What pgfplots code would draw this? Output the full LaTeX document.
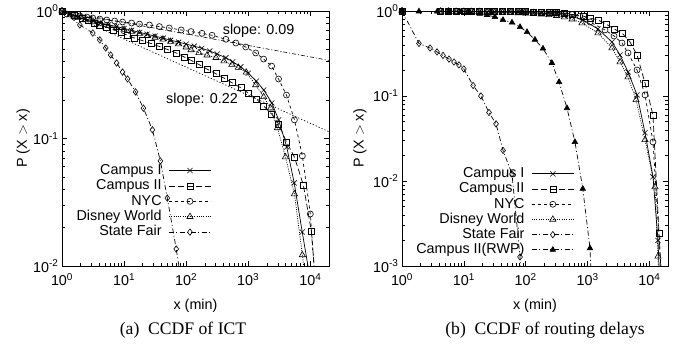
\documentclass[border=0pt]{standalone}
\usepackage{fontspec}
\setmainfont{Liberation Sans}
\newfontfamily\capfont{Liberation Serif}
\usepackage{pgfplots}
\pgfplotsset{compat=1.18}
\newcommand{\lf}{\fontsize{14.4}{16}\selectfont}
\newcommand{\lbl}[1]{10\textsuperscript{\pgfmathparse{int(round(#1))}\pgfmathresult}}
\pgfplotsset{
  legend image code/.code={\draw[mark repeat=2,mark phase=2,#1] plot coordinates {(0bp,0bp) (21bp,0bp) (42bp,0bp)};},
}
\tikzset{
  cI/.style={solid, mark=x, mark size=3.6bp},
  cII/.style={dash pattern=on 6bp off 3bp, mark=square, mark size=3bp},
  nyc/.style={dash pattern=on 3bp off 3bp, mark=o, mark size=3bp},
  dis/.style={dash pattern=on 1bp off 1.3bp, mark=triangle, mark size=3.6bp},
  sf/.style={dash pattern=on 5bp off 2.5bp on 1bp off 2.5bp, mark=diamond, mark size=3.2bp},
  rwp/.style={dash pattern=on 5bp off 2.5bp on 1bp off 2.5bp, mark=triangle*, mark size=3.2bp},
}
\begin{document}
\begin{tikzpicture}[x=1bp,y=1bp]
\path[use as bounding box] (0,0) rectangle (678,354);
% ---------------- (a) ----------------
\begin{axis}[at={(62bp,88bp)}, anchor=south west, scale only axis, width=267bp, height=255bp,
  xmode=log, ymode=log, log basis x=10, log basis y=10,
  xmin=1, xmax=20000, ymin=0.01, ymax=1,
  enlargelimits=false,
  axis line style={line width=0.8bp},
  tick style={line width=0.6bp, black},
  major tick length=5bp, minor tick length=3bp,
  tick label style={font=\lf},
  xticklabel style={yshift=-4bp},
  xticklabel={\lbl{\tick}},
  yticklabel={\lbl{\tick}},
  label style={font=\lf},
  xlabel={x (min)},
  ylabel={P (X $>$ x)},
  every axis plot/.append style={line width=0.7bp, black, mark options={solid, line width=0.6bp}},
  legend cell align=right, legend plot pos=right,
  xlabel style={at={(axis description cs:0.5,-0.155)}, anchor=center},
  ylabel style={at={(axis description cs:-0.145,0.5)}, anchor=center},
  legend style={at={(axis description cs:0.56,0.405)}, anchor=north east, draw=none, fill=none,
    inner sep=0pt, font=\lf, column sep=6bp, row sep=0.2bp,
    nodes={inner sep=1bp, text height=10.4bp, text depth=2.8bp}},
]
\addplot[dash pattern=on 4bp off 2bp on 1bp off 2bp, line width=0.6bp, forget plot] coordinates {(1,1) (20000,0.410)};
\addplot[dash pattern=on 1.2bp off 2bp, line width=0.7bp, forget plot] coordinates {(1,1) (20000,0.113)};
\addplot[cI] coordinates {
(1,1) (1.34,0.947) (1.8,0.897) (2.34,0.865) (3.16,0.835) (4.17,0.805) (5.62,0.78) (7.59,0.755)
(10,0.73) (13.2,0.705) (17.8,0.68) (23.4,0.658) (31.6,0.635) (42.7,0.612) (56.2,0.59) (75.9,0.57)
(100,0.55) (135,0.53) (178,0.51) (240,0.485) (316,0.46) (437,0.43) (562,0.4) (759,0.365)
(1000,0.325) (1350,0.282) (1780,0.24) (2400,0.19) (3090,0.14) (4170,0.0858) (5500,0.0448)
(7410,0.0185) (9500,0.009)};
\addlegendentry{Campus I}
\addplot[cII] coordinates {
(1,1) (1.6,0.93) (2.09,0.87) (2.61,0.84) (3.37,0.805) (4.06,0.777) (5.25,0.745) (6.79,0.71)
(9.12,0.675) (11.4,0.645) (14.7,0.614) (19.8,0.585) (27.5,0.555) (37,0.527) (49.7,0.5)
(69.2,0.469) (92.9,0.436) (120,0.41) (161,0.38) (217,0.35) (302,0.322) (406,0.298) (545,0.274)
(759,0.25) (1019,0.226) (1368,0.203) (1770,0.18) (2377,0.156) (3076,0.13) (4130,0.094)
(5546,0.0716) (7727,0.0432) (10375,0.0188) (11580,0.0098)};
\addlegendentry{Campus II}
\addplot[nyc] coordinates {
(1,1) (1.2,0.947) (1.5,0.93) (1.94,0.914) (2.51,0.897) (3.13,0.881) (4.06,0.865) (5.25,0.85)
(7.05,0.835) (9.46,0.82) (13.2,0.805) (17.7,0.79) (25.6,0.777) (37,0.755) (53.5,0.736)
(83.2,0.71) (120,0.69) (180,0.668) (261,0.645) (437,0.6) (631,0.561) (912,0.522) (1318,0.469)
(1770,0.42) (2377,0.37) (3076,0.293) (4130,0.219) (5546,0.14) (7447,0.073) (10000,0.0256)
(11580,0.0093)};
\addlegendentry{NYC}
\addplot[dis] coordinates {
(1,1) (1.34,0.93) (1.8,0.89) (2.37,0.85) (3.16,0.82) (4.22,0.79) (5.62,0.765) (7.5,0.74)
(10,0.715) (13.3,0.69) (17.8,0.665) (23.7,0.64) (31.6,0.62) (42.2,0.6) (56.2,0.575)
(75,0.55) (100,0.52) (120,0.495) (161,0.47) (217,0.45) (302,0.43) (406,0.405) (545,0.38)
(692,0.36) (930,0.33) (1318,0.263) (1770,0.212) (2290,0.173) (2950,0.121) (3980,0.0716)
(5546,0.0367) (7447,0.0122) (8300,0.0078)};
\addlegendentry{Disney World}
\addplot[sf] coordinates {
(1,1) (1.94,0.777) (3.13,0.672) (4.06,0.593) (5.06,0.513) (6.08,0.452) (7.59,0.391) (9.46,0.332)
(11.4,0.293) (15.3,0.232) (20.5,0.173) (28.6,0.117) (38.4,0.0667) (49.7,0.0341) (69.2,0.0136)
(93,0.0054)};
\addlegendentry{State Fair}
\node[font=\lf] at (axis cs:1470,0.697) {slope: 0.09};
\node[font=\lf] at (axis cs:180,0.2) {slope: 0.22};
\end{axis}
% ---------------- (b) ----------------
\begin{axis}[at={(402bp,88bp)}, anchor=south west, scale only axis, width=266bp, height=255bp,
  xmode=log, ymode=log, log basis x=10, log basis y=10,
  xmin=1, xmax=20000, ymin=0.001, ymax=1,
  enlargelimits=false,
  axis line style={line width=0.8bp},
  tick style={line width=0.6bp, black},
  major tick length=5bp, minor tick length=3bp,
  tick label style={font=\lf},
  xticklabel style={yshift=-4bp},
  xticklabel={\lbl{\tick}},
  yticklabel={\lbl{\tick}},
  label style={font=\lf},
  xlabel={x (min)},
  ylabel={P (X $>$ x)},
  every axis plot/.append style={line width=0.7bp, black, mark options={solid, line width=0.6bp}},
  legend cell align=right, legend plot pos=right,
  xlabel style={at={(axis description cs:0.5,-0.155)}, anchor=center},
  ylabel style={at={(axis description cs:-0.158,0.5)}, anchor=center},
  legend style={at={(axis description cs:0.648,0.392)}, anchor=north east, draw=none, fill=none,
    inner sep=0pt, font=\lf, column sep=6bp, row sep=0bp,
    nodes={inner sep=1bp, text height=10.4bp, text depth=2.8bp}},
]
\addplot[cI] coordinates {
(1,1) (4.22,0.995) (5.62,0.993) (7.5,0.99) (10,0.988) (13.3,0.985) (17.8,0.983) (23.7,0.98)
(31.6,0.977) (42.2,0.973) (56.2,0.968) (75,0.963) (100,0.957) (133,0.95) (178,0.94) (237,0.93)
(316,0.915) (422,0.895) (562,0.865) (844,0.784) (1476,0.614) (2485,0.432) (3350,0.304)
(4510,0.192) (6310,0.103) (8490,0.037) (11430,0.0112) (13770,0.002) (14830,0.00053)};
\addlegendentry{Campus I}
\addplot[cII] coordinates {
(1,1) (4.22,0.998) (5.62,0.998) (7.5,0.997) (10,0.996) (13.3,0.995) (17.8,0.994) (23.7,0.993)
(31.6,0.99) (42.2,0.988) (56.2,0.985) (75,0.983) (100,0.98) (133,0.978) (178,0.975) (237,0.97)
(316,0.96) (422,0.945) (562,0.92) (844,0.873) (1096,0.827) (1476,0.784) (1988,0.703)
(2680,0.614) (3610,0.551) (4860,0.432) (6310,0.304) (8490,0.142) (11430,0.0597) (14300,0.0024)
(16000,0.00053)};
\addlegendentry{Campus II}
\addplot[nyc] coordinates {
(1,1) (4.22,0.997) (5.62,0.996) (7.5,0.995) (10,0.994) (13.3,0.993) (17.8,0.992) (23.7,0.99)
(31.6,0.988) (42.2,0.986) (56.2,0.983) (75,0.98) (100,0.975) (133,0.97) (178,0.965) (237,0.955)
(316,0.945) (422,0.93) (562,0.91) (750,0.87) (1096,0.742) (1915,0.598) (2680,0.508)
(3610,0.42) (4510,0.321) (6310,0.202) (8490,0.103) (11430,0.0288) (16600,0.0004)};
\addlegendentry{NYC}
\addplot[dis] coordinates {
(1,1) (4.22,0.99) (5.62,0.988) (7.5,0.985) (10,0.982) (13.3,0.98) (17.8,0.976) (23.7,0.972)
(31.6,0.967) (42.2,0.962) (56.2,0.955) (75,0.948) (100,0.94) (133,0.93) (178,0.915) (237,0.9)
(316,0.88) (422,0.85) (562,0.8) (813,0.722) (1476,0.551) (2485,0.367) (3350,0.251)
(4510,0.167) (6080,0.09) (8490,0.0305) (12300,0.0085) (13770,0.0013) (14300,0.00053)};
\addlegendentry{Disney World}
\addplot[sf] coordinates {
(1,1) (1.88,0.415) (2.84,0.367) (3.68,0.33) (4.6,0.3) (5.75,0.272) (6.93,0.251) (8.33,0.232)
(10,0.208) (14.1,0.133) (18.9,0.1) (25.5,0.064) (33.1,0.047) (43,0.0229) (60,0.0121)
(80.9,0.00128) (87,0.00052)};
\addlegendentry{State Fair}
\addplot[rwp] coordinates {
(1,1) (1.88,0.99) (3.7,0.985) (5.8,0.98) (8.7,0.975) (12.6,0.95) (18.2,0.93) (23.7,0.9)
(31.8,0.85) (42.9,0.784) (60,0.732) (81,0.648) (105,0.566) (141,0.46) (190,0.362) (265,0.245)
(346,0.146) (465,0.072) (625,0.0288) (837,0.0081) (1094,0.00162) (1175,0.00052)};
\addlegendentry{Campus II(RWP)}
\end{axis}
\node[font=\capfont\fontsize{17.7}{20}\selectfont] at (183,24) {(a)\ \ CCDF of ICT};
\node[font=\capfont\fontsize{17.7}{20}\selectfont] at (545,24) {(b)\ \ CCDF of routing delays};
\end{tikzpicture}
\end{document}
